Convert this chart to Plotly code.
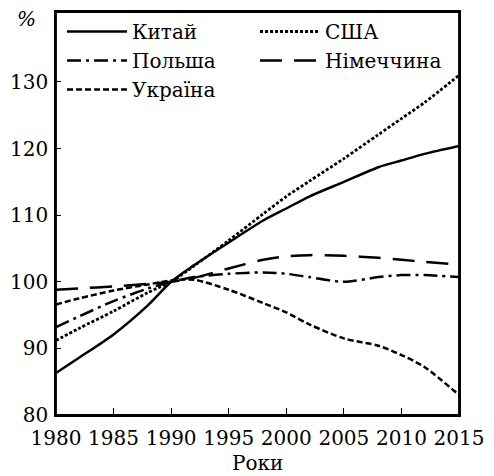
import plotly.graph_objects as go

years = [1980, 1982, 1985, 1988, 1990, 1992, 1995, 1998, 2000, 2002, 2005, 2008, 2010, 2012, 2015]
china   = [86.3, 88.6, 92.1, 96.5, 100.0, 102.5, 105.9, 109.2, 111.0, 112.8, 115.0, 117.2, 118.2, 119.2, 120.4]
usa     = [91.2, 93.0, 95.6, 98.4, 100.0, 102.4, 106.2, 110.2, 112.8, 115.1, 118.5, 122.1, 124.5, 126.9, 131.0]
poland  = [93.2, 94.8, 97.1, 99.0, 100.0, 100.7, 101.2, 101.4, 101.2, 100.7, 100.0, 100.7, 101.0, 101.0, 100.7]
germany = [98.8, 99.0, 99.3, 99.7, 100.0, 100.6, 102.0, 103.3, 103.8, 104.0, 103.9, 103.6, 103.3, 103.0, 102.6]
ukraine = [96.6, 97.5, 98.7, 99.6, 100.2, 100.3, 98.8, 96.8, 95.4, 93.6, 91.5, 90.4, 89.0, 87.2, 83.0]

names = ["Китай", "США", "Польша", "Німеччина", "Україна"]
series = [china, usa, poland, germany, ukraine]
dashes = ["solid", "3px,2px", "14px,5px,3px,5px", "22px,12px", "6px,3px"]
widths = [2.5, 2.8, 2.5, 2.5, 2.5]

x_ticks = [1980, 1985, 1990, 1995, 2000, 2005, 2010, 2015]
y_ticks = [80, 90, 100, 110, 120, 130]
x_title = "Роки"
y_unit = "%"

FONT = "DejaVu Serif"
FS_TICK = 20
FS_LEG = 20

fig = go.Figure()
for name, vals, dash, w in zip(names, series, dashes, widths):
    fig.add_trace(go.Scatter(
        x=years, y=vals, name=name, mode="lines",
        line=dict(color="black", width=w, dash=dash, shape="spline", smoothing=0.8),
    ))

fig.update_layout(
    width=494, height=476,
    margin=dict(l=55, r=32, t=10, b=61),
    paper_bgcolor="white", plot_bgcolor="white",
    font=dict(family=FONT, size=FS_TICK, color="black"),
    showlegend=True,
    legend=dict(
        orientation="h", x=0.015, y=1.0, xanchor="left", yanchor="top",
        entrywidth=118, entrywidthmode="pixels",
        bgcolor="rgba(0,0,0,0)", font=dict(family=FONT, size=FS_LEG),
        itemwidth=60,
    ),
    xaxis=dict(
        range=[1980, 2015], tickvals=x_ticks, ticktext=[str(v) for v in x_ticks],
        ticks="inside", ticklen=7, tickwidth=1.2, tickcolor="black",
        showline=True, mirror=True, linecolor="black", linewidth=1.5,
        showgrid=False, zeroline=False, tickangle=0, ticklabelstandoff=4,
        tickfont=dict(family=FONT, size=FS_TICK),
    ),
    yaxis=dict(
        range=[80, 140.5], tickvals=y_ticks, ticktext=[str(v) for v in y_ticks],
        ticks="inside", ticklen=5, tickwidth=1.2, tickcolor="black",
        showline=True, mirror=True, linecolor="black", linewidth=1.5,
        showgrid=False, zeroline=False, ticklabelstandoff=2,
        tickfont=dict(family=FONT, size=FS_TICK),
    ),
    shapes=[dict(type="rect", xref="paper", yref="paper", x0=0, y0=0, x1=1, y1=1,
                 line=dict(color="black", width=1.8), fillcolor="rgba(0,0,0,0)", layer="above")],
    annotations=[
        dict(text="<i>" + y_unit + "</i>", xref="paper", yref="paper", x=-0.074, y=0.982,
             xanchor="center", yanchor="middle", showarrow=False,
             font=dict(family=FONT, size=FS_TICK)),
        dict(text=x_title, xref="paper", yref="paper", x=0.5, y=-0.118,
             xanchor="center", yanchor="middle", showarrow=False,
             font=dict(family=FONT, size=FS_LEG)),
    ],
)

fig.write_html("out.html", config={"displayModeBar": False},
               post_script="document.body.style.margin='0';")
